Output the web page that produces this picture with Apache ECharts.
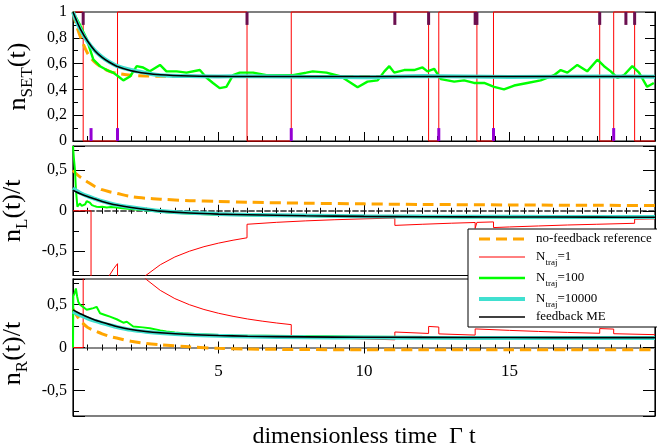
<!DOCTYPE html>
<html><head><meta charset="utf-8">
<script src="https://cdn.jsdelivr.net/npm/echarts@6/dist/echarts.min.js"></script>
<style>html,body{margin:0;padding:0;background:#fff}#c{width:657px;height:448px}</style>
</head><body><div id="c"></div><script>
// ---------- data ----------
const xTicks = [5, 10, 15];
const smoothT = [0,0.1,0.25,0.5,0.75,1,1.25,1.5,2,2.5,3,4,5,6,8,10,12,15,18,20];
// top panel: n_SET(t)
const setOrange = [1,0.91,0.81,0.68,0.61,0.568,0.54,0.525,0.51,0.504,0.502,0.5,0.5,0.5,0.5,0.5,0.5,0.5,0.5,0.5];
const setBlack  = [1,0.945,0.87,0.775,0.7,0.648,0.61,0.58,0.545,0.525,0.513,0.504,0.501,0.5,0.5,0.5,0.5,0.5,0.5,0.5];
const setCyan   = [1,0.94,0.865,0.77,0.7,0.65,0.612,0.583,0.55,0.528,0.51,0.503,0.5,0.502,0.498,0.495,0.503,0.497,0.5,0.498];
const setRedT = [0,0.35,0.35,1.53,1.53,5.98,5.98,7.5,7.5,12.22,12.22,12.57,12.57,13.88,13.88,14.45,14.45,18.1,18.1,18.58,18.58,19.3,19.3,20];
const setRedV = [1,1,0,0,1,1,0,0,1,1,0,0,1,1,0,0,1,1,0,0,1,1,0,0];
const setGreenT = [0,0.24,0.47,0.7,0.93,1.16,1.38,1.56,1.73,1.96,2.19,2.41,2.64,2.99,3.21,3.56,3.9,4.36,4.59,4.81,5.04,5.27,5.5,5.73,6.19,6.65,7.22,7.56,8.02,8.24,8.71,9.21,9.78,10.12,10.47,10.7,10.87,11.04,11.38,11.72,12.01,12.18,12.41,12.64,13.1,13.44,13.78,14.13,14.47,14.81,15.16,15.61,16.07,16.53,16.76,16.99,17.33,17.67,18.02,18.25,18.48,18.71,18.93,19.22,19.45,19.73,19.96];
const setGreenV = [1,0.9,0.79,0.63,0.58,0.55,0.53,0.5,0.47,0.5,0.58,0.57,0.54,0.59,0.54,0.54,0.53,0.55,0.49,0.45,0.41,0.42,0.51,0.53,0.53,0.51,0.51,0.51,0.53,0.54,0.53,0.5,0.417,0.46,0.47,0.54,0.58,0.53,0.55,0.55,0.57,0.54,0.56,0.48,0.46,0.47,0.45,0.45,0.42,0.4,0.43,0.45,0.47,0.51,0.55,0.53,0.59,0.54,0.63,0.58,0.54,0.49,0.51,0.58,0.53,0.42,0.45];
const outEventsT = [0.35,5.98,11.06,12.22,13.82,13.88,18.1,19.0,19.3];
const inEventsT  = [0.62,1.53,7.5,12.57,14.45,18.58];
// middle panel: n_L(t)/t
const lOrange = [0.5,0.46,0.415,0.355,0.3,0.26,0.235,0.215,0.175,0.155,0.143,0.125,0.115,0.105,0.093,0.085,0.078,0.072,0.067,0.065];
const lBlack  = [0.255,0.235,0.21,0.175,0.145,0.115,0.09,0.07,0.04,0.015,-0.005,-0.028,-0.042,-0.05,-0.062,-0.07,-0.074,-0.077,-0.079,-0.08];
const lCyan   = [0.28,0.25,0.22,0.18,0.148,0.118,0.093,0.073,0.043,0.018,-0.003,-0.026,-0.04,-0.05,-0.06,-0.068,-0.072,-0.075,-0.077,-0.078];
const lRedT = [0,0.62,0.62,0.8,1.0,1.25,1.4,1.53,1.53,2,2.5,3,3.5,4,4.5,5,5.5,5.98,5.98,7,8,9,10,11.06,11.06,12,13,13.82,13.82,13.88,13.88,14.45,14.45,15,16,17,18,19.3,19.3,20];
const lRedV = [0,0,-1.613,-1.25,-1,-0.8,-0.714,-0.654,-1.307,-1,-0.8,-0.667,-0.571,-0.5,-0.444,-0.4,-0.364,-0.334,-0.167,-0.143,-0.125,-0.111,-0.1,-0.09,-0.181,-0.167,-0.154,-0.145,-0.217,-0.216,-0.144,-0.138,-0.208,-0.2,-0.188,-0.176,-0.167,-0.155,-0.104,-0.1];
const lGreenT = [0,0.03,0.07,0.1,0.15,0.2,0.24,0.3,0.35,0.42,0.47,0.52,0.58,0.65,0.72,0.81,0.9,1.0,1.16,1.3,1.5,1.7,2.07,2.4,2.64,3.0,3.21,3.8,4.36,5,6,7,8,9,10,11,12,13,14,15,16,17,18,19,20];
const lGreenV = [0.8,0.65,0.5,0.26,0.05,0.07,0.09,0.06,0.04,0.08,0.12,0.1,0.1,0.07,0.06,0.05,0.045,0.05,0.04,0.045,0.04,0.03,0.02,0.008,0,-0.01,-0.02,-0.03,-0.04,-0.05,-0.055,-0.06,-0.065,-0.07,-0.078,-0.075,-0.08,-0.078,-0.08,-0.082,-0.08,-0.078,-0.08,-0.082,-0.08];
// bottom panel: n_R(t)/t
const rOrange = [0.45,0.39,0.315,0.235,0.195,0.16,0.13,0.11,0.073,0.048,0.032,0.008,-0.01,-0.018,-0.024,-0.026,-0.027,-0.027,-0.027,-0.027];
const rBlack  = [0.44,0.42,0.395,0.355,0.32,0.295,0.27,0.245,0.21,0.187,0.172,0.152,0.14,0.132,0.124,0.12,0.118,0.116,0.115,0.115];
const rCyan   = [0.42,0.4,0.378,0.34,0.31,0.285,0.262,0.24,0.206,0.184,0.168,0.148,0.136,0.128,0.12,0.116,0.113,0.111,0.11,0.11];
const rRedT = [0,0.35,0.35,0.62,0.62,1,1.5,2,2.5,3,3.5,4,4.5,5,5.5,6,6.5,7,7.5,7.5,8.5,9.5,11.06,11.06,12.22,12.22,12.57,12.57,13.82,13.82,15,16,17,18.1,18.1,18.58,18.58,20];
const rRedV = [0,0,2.857,1.613,3.226,2,1.333,1,0.8,0.667,0.571,0.5,0.444,0.4,0.364,0.333,0.308,0.286,0.267,0.133,0.118,0.105,0.09,0.181,0.164,0.246,0.239,0.159,0.145,0.217,0.2,0.1875,0.176,0.166,0.221,0.215,0.161,0.15];
const rGreenT = [0,0.01,0.05,0.1,0.14,0.18,0.24,0.3,0.36,0.47,0.58,0.7,0.81,0.93,1.1,1.27,1.5,1.73,1.85,2.07,2.4,2.64,3.0,3.21,3.5,3.78,4.36,5,5.5,6.65,7.5,8.71,10,12,14,16,18,20];
const rGreenV = [0,0.6,0.63,0.69,0.6,0.535,0.5,0.48,0.47,0.44,0.45,0.46,0.475,0.4,0.38,0.36,0.33,0.29,0.3,0.245,0.235,0.225,0.2,0.186,0.175,0.167,0.155,0.145,0.14,0.136,0.133,0.13,0.127,0.122,0.12,0.118,0.118,0.117];
const legendNames = ['nf','n1','n100','n10000','me'];
const legendLabels = {nf:'{g| }no-feedback reference', n1:'{g| }N{s|traj}=1', n100:'{g| }N{s|traj}=100', n10000:'{g| }N{s|traj}=10000', me:'{g| }feedback ME'};

// ---------- chart ----------
const FONT = 'Liberation Serif';
const zip = (t, v) => t.map((x, i) => [x, v[i]]);
const C = {orange:'#FFA500', red:'#FF0000', green:'#00FF00', cyan:'#40E0D0', black:'#000000'};

function lineS(name, xi, yi, data, color, width, extra) {
  return Object.assign({
    name, type:'line', xAxisIndex:xi, yAxisIndex:yi, data, symbol:'none', showSymbol:false,
    lineStyle:{color, width}, itemStyle:{color}, animation:false, silent:true
  }, extra || {});
}
function panelSeries(xi, yi, red, orange, green, cyan, black, redClip, greenW) {
  return [
    lineS('n1', xi, yi, red, C.red, 1, {clip: redClip}),
    lineS('nf', xi, yi, orange, C.orange, 3, {lineStyle:{color:C.orange, width:3, type:[11,6]}, smooth:0.3}),
    lineS('n100', xi, yi, green, C.green, greenW),
    lineS('n10000', xi, yi, cyan, C.cyan, 4, {smooth:0.3}),
    lineS('me', xi, yi, black, C.black, 1.6, {smooth:0.3})
  ];
}
function marks(t, a, b, color) {
  return {
    type:'custom', xAxisIndex:0, yAxisIndex:0, silent:true, animation:false, z:6,
    data: t.map(x => [x, a, b]), encode:{x:0, y:1},
    renderItem: (p, api) => {
      const p1 = api.coord([api.value(0), api.value(1)]);
      const p2 = api.coord([api.value(0), api.value(2)]);
      return {type:'line', shape:{x1:p1[0], y1:p1[1], x2:p2[0], y2:p2[1]}, style:{stroke:color, lineWidth:3}};
    }
  };
}
const fmt = v => { const r = Math.round(v * 100) / 100; return String(r).replace('.', ','); };
const fmtHalf = v => (Math.abs(v * 2 - Math.round(v * 2)) > 1e-6) ? '' : fmt(v);
const lbl = {color:'#000', fontFamily:FONT, fontSize:16};
const blackLine = {color:'#000', width:1};

function xAx(grid, pos, opts) {
  return Object.assign({
    gridIndex:grid, type:'value', min:0, max:20, interval:5, position:pos,
    splitLine:{show:false}, minorSplitLine:{show:false},
    axisLabel:{show:false}
  }, opts);
}
function yAx(grid, pos, min, max, opts) {
  return Object.assign({
    gridIndex:grid, type:'value', min, max, position:pos,
    splitLine:{show:false}, minorSplitLine:{show:false},
    axisLine:{show:true, onZero:false, lineStyle:blackLine},
    axisTick:{show:true, inside:true, length:10, lineStyle:blackLine},
    minorTick:{show:true, splitNumber:2, length:5, lineStyle:blackLine},
    axisLabel:{show:false}
  }, opts);
}
const nameRich = {
  a:{fontFamily:FONT, fontSize:26, color:'#000', lineHeight:36},
  s:{fontFamily:FONT, fontSize:17, color:'#000', verticalAlign:'bottom', lineHeight:36}
};
const zeroTickIn = {show:true, inside:true, length:6, lineStyle:blackLine};
const zeroMinorIn = {show:true, splitNumber:10, length:3, lineStyle:blackLine};
const gridBase = {left:73, width:582, show:true, borderColor:'#000', borderWidth:1.2, backgroundColor:'transparent', containLabel:false, outerBoundsMode:'none'};
const midTick = {show:true, inside:true, length:12, lineStyle:blackLine};
const midMinor = {show:true, splitNumber:2, length:6, lineStyle:blackLine};

const option = {
  animation:false,
  backgroundColor:'#fff',
  grid:[
    Object.assign({}, gridBase, {top:12, height:129}),
    Object.assign({}, gridBase, {top:146, height:129.5}),
    Object.assign({}, gridBase, {top:279, height:137}),
    Object.assign({}, gridBase, {top:300, height:47.7, show:false})
  ],
  xAxis:[
    xAx(0, 'bottom', {axisLine:{show:true, onZero:false, lineStyle:blackLine},
      axisTick:{show:true, inside:true, length:9, lineStyle:blackLine},
      minorTick:{show:true, splitNumber:10, length:5, lineStyle:blackLine}}),
    xAx(1, 'bottom', {axisLine:{show:true, onZero:true, lineStyle:{color:'#555', width:1.5, type:[5,3]}},
      axisTick:zeroTickIn, minorTick:zeroMinorIn}),
    xAx(1, 'top', {axisLine:{show:true, onZero:true, lineStyle:{color:'#555', width:1.5, type:[5,3]}},
      axisTick:zeroTickIn, minorTick:zeroMinorIn}),
    xAx(2, 'bottom', {axisLine:{show:true, onZero:true, lineStyle:{color:'#888', width:2, type:[1.5,1.5]}},
      axisTick:zeroTickIn, minorTick:zeroMinorIn}),
    xAx(2, 'top', {axisLine:{show:true, onZero:true, lineStyle:{color:'#888', width:2, type:[1.5,1.5]}},
      axisTick:zeroTickIn, minorTick:zeroMinorIn}),
    xAx(3, 'bottom', {axisLine:{show:false, onZero:false}, axisTick:{show:false}, minorTick:{show:false},
      axisLabel:{show:true, margin:15, color:'#000', fontFamily:FONT, fontSize:17,
        formatter: v => xTicks.includes(v) ? String(v) : ''}})
  ],
  yAxis:[
    yAx(0, 'left', 0, 1, {interval:0.2, axisLabel:Object.assign({show:true, margin:6, formatter:fmt}, lbl),
      axisLine:{show:true, onZero:true, lineStyle:blackLine},
      name:'{a|n}{s|SET}{a|(t)}', nameLocation:'middle', nameRotate:90, nameGap:29, nameTextStyle:{rich:nameRich}}),
    yAx(0, 'right', 0, 1, {interval:0.2}),
    yAx(1, 'left', -0.8, 0.8, {splitNumber:3, axisTick:midTick, minorTick:midMinor,
      axisLine:{show:true, onZero:true, lineStyle:blackLine},
      axisLabel:Object.assign({show:true, margin:6, formatter:fmtHalf, showMinLabel:false, showMaxLabel:false}, lbl),
      name:'{a|n}{s|L}{a|(t)/t}', nameLocation:'middle', nameRotate:90, nameGap:34, nameTextStyle:{rich:nameRich}}),
    yAx(1, 'right', -0.8, 0.8, {splitNumber:3, axisTick:midTick, minorTick:midMinor}),
    yAx(2, 'left', -0.8, 0.8, {splitNumber:3, axisTick:midTick, minorTick:midMinor,
      axisLine:{show:true, onZero:true, lineStyle:blackLine},
      axisLabel:Object.assign({show:true, margin:6, formatter:fmtHalf, showMinLabel:false, showMaxLabel:false}, lbl),
      name:'{a|n}{s|R}{a|(t)/t}', nameLocation:'middle', nameRotate:90, nameGap:34, nameTextStyle:{rich:nameRich, padding:[0,12,0,0]}}),
    yAx(2, 'right', -0.8, 0.8, {splitNumber:3, axisTick:midTick, minorTick:midMinor}),
    {gridIndex:3, type:'value', min:0, max:1, show:false}
  ],
  legend:{
    show:true, orient:'vertical', left:468, top:229, padding:[3,6,3,9],
    backgroundColor:'#fff', borderColor:'#000', borderWidth:1, borderRadius:0,
    itemWidth:46, itemHeight:12, itemGap:1, selectedMode:false, z:10,
    data:legendNames, itemStyle:{opacity:0}, lineStyle:{width:'inherit'},
    formatter: n => legendLabels[n],
    textStyle:{fontFamily:FONT, fontSize:13, color:'#000', lineHeight:14,
      rich:{g:{width:6, fontSize:13, lineHeight:14}, s:{fontFamily:FONT, fontSize:9, color:'#000', verticalAlign:'bottom', lineHeight:20}}}
  },
  graphic:[{type:'text', x:364, y:437, silent:true,
    style:{text:'dimensionless time  Γ t', fontFamily:FONT, fontSize:24, fill:'#000', align:'center', verticalAlign:'middle'}}],
  series:[
    ...panelSeries(0, 0, zip(setRedT, setRedV), zip(smoothT, setOrange), zip(setGreenT, setGreenV), zip(smoothT, setCyan), zip(smoothT, setBlack), false, 2.4),
    marks(outEventsT, 1, 0.9, '#6B0F4F'),
    marks(inEventsT, 0, 0.1, '#9400D3'),
    ...panelSeries(1, 2, zip(lRedT, lRedV), zip(smoothT, lOrange), zip(lGreenT, lGreenV), zip(smoothT, lCyan), zip(smoothT, lBlack), true, 2),
    ...panelSeries(3, 4, zip(rRedT, rRedV), zip(smoothT, rOrange), zip(rGreenT, rGreenV), zip(smoothT, rCyan), zip(smoothT, rBlack), true, 2)
  ]
};
const chart = echarts.init(document.getElementById('c'), null, {renderer:'canvas'});
chart.setOption(option);
</script></body></html>
